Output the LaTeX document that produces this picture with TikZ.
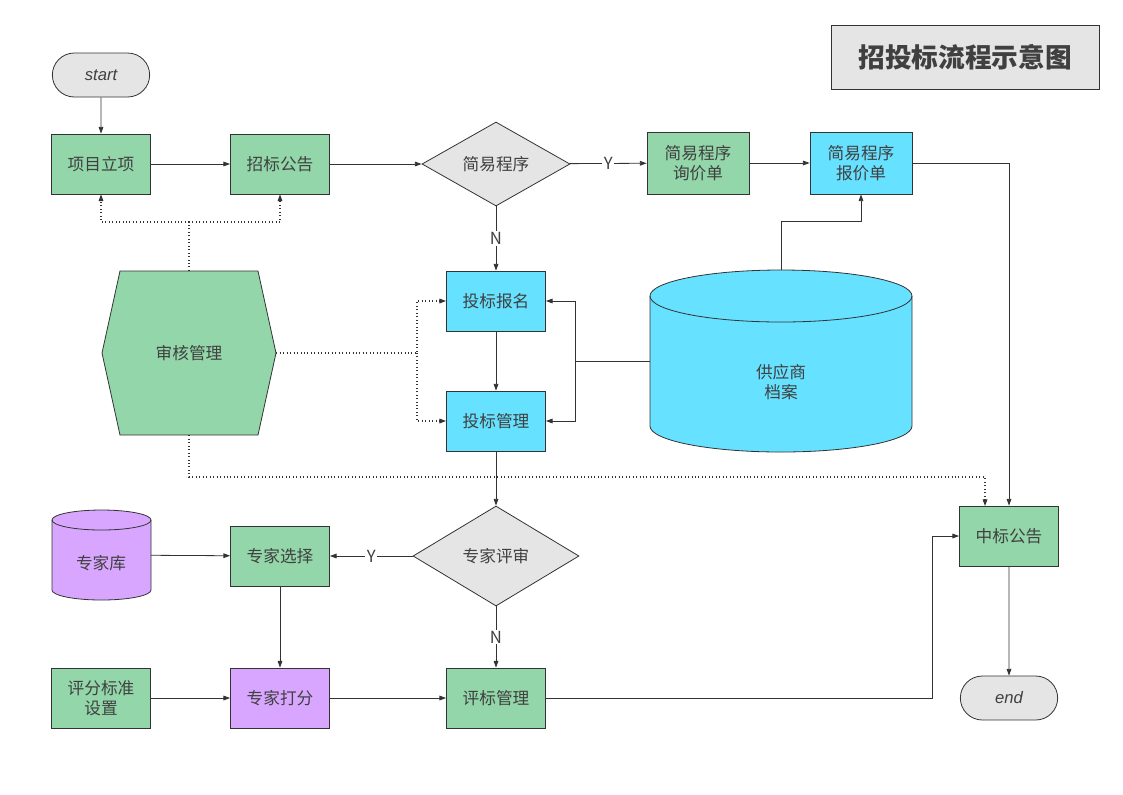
\documentclass[tikz,border=0pt]{standalone}
\usepackage{fontspec}
\setmainfont{Noto Sans CJK SC}
\newfontfamily\termfont{Liberation Sans}
\usetikzlibrary{positioning, shapes, arrows.meta, calc}
\definecolor{boxgreen}{HTML}{92D6A9}
\definecolor{boxcyan}{HTML}{66E1FF}
\definecolor{boxpurple}{HTML}{D8A6FF}
\definecolor{boxgray}{HTML}{E5E5E5}
\definecolor{edge}{HTML}{333333}
\definecolor{txt}{HTML}{404040}
\tikzset{
  base/.style={draw=edge, line width=0.6pt, text=txt, font=\fontsize{12.5}{15}\selectfont, align=center, inner sep=1pt},
  box/.style={base, rectangle, minimum width=74.25pt, minimum height=45pt},
  green/.style={box, fill=boxgreen},
  cyan/.style={box, fill=boxcyan},
  purple/.style={box, fill=boxpurple},
  decide/.style={base, diamond, fill=boxgray, aspect=1.76, inner sep=0pt},
  term/.style={base, rounded rectangle, fill=boxgray, minimum width=75pt, minimum height=33pt, font=\termfont\itshape\fontsize{12.5}{15}\selectfont},
  plain/.style={text=txt, font=\fontsize{12.5}{15}\selectfont, align=center},
  arr/.style={-{Triangle[length=5pt,width=3.5pt]}, draw=edge, line width=0.6pt},
  dot/.style={arr, dotted, line width=0.8pt},
  lbl/.style={text=txt, fill=white, inner sep=1pt, font=\fontsize{12.5}{15}\selectfont}
}
\begin{document}
\begin{tikzpicture}[x=0.75pt, y=-0.75pt]
  \useasboundingbox (0,0) rectangle (1123,794);
  % title
  \node[base, fill=boxgray, minimum width=201pt, minimum height=48pt, font=\bfseries\fontsize{20}{24}\selectfont] (title) at (965,57) {招投标流程示意图};
  % upper row
  \node[term] (start) at (101,75) {start};
  \node[green] (lixiang) at (101,164) {项目立项};
  \node[green] (gonggao) at (280,164) {招标公告};
  \node[decide, minimum width=111pt, minimum height=63pt] (jianyi) at (496,164) {简易程序};
  \node[green, minimum width=76.5pt, minimum height=46.5pt] (xunjia) at (698,163) {简易程序\\询价单};
  \node[cyan, minimum width=76.5pt, minimum height=46.5pt] (baojia) at (861,163) {简易程序\\报价单};
  % middle
  \node[cyan] (baoming) at (496,301) {投标报名};
  \node[cyan] (toubiao) at (496,421) {投标管理};
  \draw[base, fill=boxgreen] (102,353) -- (120,271) -- (258,271) -- (276,353) -- (258,435) -- (120,435) -- cycle;
  \node[plain, minimum width=130.5pt, minimum height=123pt] (shenhe) at (189,353) {审核管理};
  % supplier cylinder
  \draw[base, fill=boxcyan] (650,296) -- (650,426) arc (180:360:98.25pt and 19.5pt) -- (912,296) arc (0:180:98.25pt and 19.5pt) -- cycle;
  \draw[base] (650,296) arc (180:360:98.25pt and 19.5pt);
  \node[plain, minimum width=196.5pt, minimum height=136.5pt, inner sep=0pt] (gys) at (781,361) {};
  \node[plain] (gystext) at (781,382) {供应商\\档案};
  % lower
  \node[green] (zhongbiao) at (1009,536) {中标公告};
  \draw[base, fill=boxpurple] (52,520) -- (52,590) arc (180:360:37.125pt and 7.5pt) -- (151,520) arc (0:180:37.125pt and 7.5pt) -- cycle;
  \draw[base] (52,520) arc (180:360:37.125pt and 7.5pt);
  \node[plain, minimum width=74.25pt, minimum height=67.5pt, inner sep=0pt] (zjk) at (101,555) {};
  \node[plain] (zjktext) at (101,563) {专家库};
  \node[green] (xuanze) at (280,556) {专家选择};
  \node[decide, minimum width=124.5pt, minimum height=75pt] (pingshen) at (496,556) {专家评审};
  \node[green] (biaozhun) at (101,698) {评分标准\\设置};
  \node[purple] (dafen) at (280,698) {专家打分};
  \node[green] (pingbiao) at (496,698) {评标管理};
  \node[term] (end) at (1009,698) {end};
  % solid connectors
  \draw[arr] (start) -- (lixiang);
  \draw[arr] (lixiang) -- (gonggao);
  \draw[arr] (gonggao) -- (jianyi);
  \draw[arr] (jianyi) -- node[lbl]{Y} (xunjia);
  \draw[arr] (xunjia) -- (baojia);
  \draw[arr] (baojia.east) -| (zhongbiao.north);
  \draw[arr] (jianyi) -- node[lbl]{N} (baoming);
  \draw[arr] (baoming) -- (toubiao);
  \draw[arr] (gys.west) -- (575,361) |- (baoming.east);
  \draw[arr] (575,361) |- (toubiao.east);
  \draw[arr] (gys.north) |- (861,221) -- (baojia.south);
  \draw[arr] (toubiao) -- (pingshen);
  \draw[arr] (pingshen) -- node[lbl]{Y} (xuanze);
  \draw[arr] (pingshen) -- node[lbl]{N} (pingbiao);
  \draw[arr] (zjk) -- (xuanze);
  \draw[arr] (xuanze) -- (dafen);
  \draw[arr] (biaozhun) -- (dafen);
  \draw[arr] (dafen) -- (pingbiao);
  \draw[arr] (pingbiao.east) -- (932,698) |- (zhongbiao.west);
  \draw[arr] (zhongbiao) -- (end);
  % dotted review links
  \draw[dot] (shenhe.north) -- (189,222) -| (lixiang.south);
  \draw[dot] (189,222) -| (gonggao.south);
  \draw[dot] (shenhe.east) -- (417,353) |- (baoming.west);
  \draw[dot] (417,353) |- (toubiao.west);
  \draw[dot] (shenhe.south) -- (189,477) -| (985,506);
\end{tikzpicture}
\end{document}
